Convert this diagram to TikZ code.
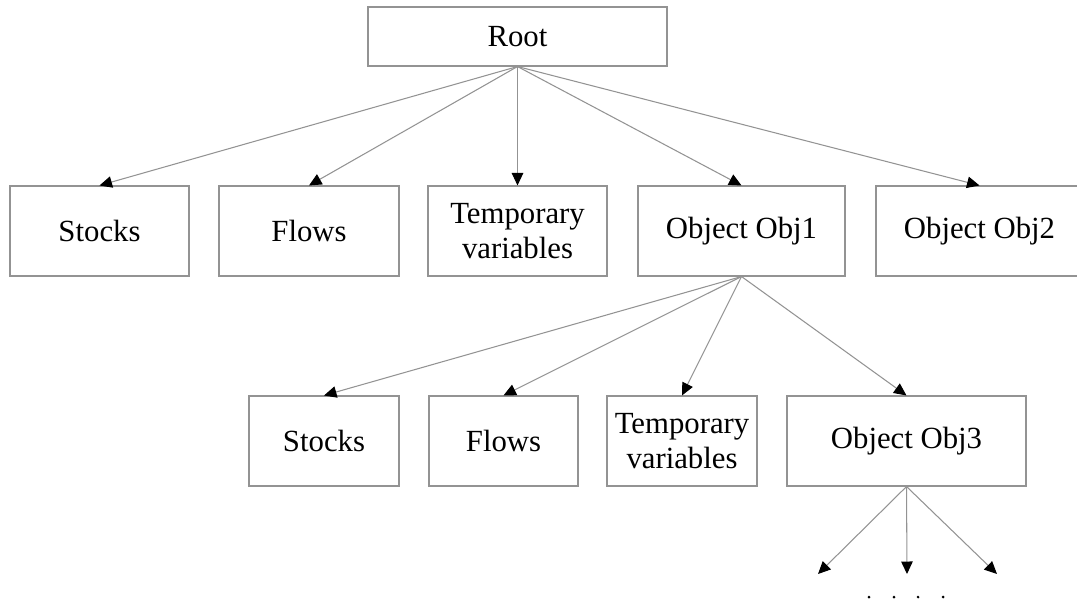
\documentclass[tikz,border=0pt]{standalone}
\usepackage{fontspec}
\setmainfont{Liberation Serif}
\usetikzlibrary{arrows.meta, positioning}

\begin{document}
\begin{tikzpicture}[
  box/.style={draw=gray!85, line width=0.6pt, minimum height=1.8cm, align=center,
    font=\fontsize{17.5}{19.5}\selectfont, inner sep=0pt},
  link/.style={draw=gray!85, line width=0.6pt,
    -{Triangle[length=0.25cm,width=0.23cm,black]}}
]
\useasboundingbox (0,0) rectangle (21.54,-12);

% Wurzel
\node[box, minimum width=5.98cm, minimum height=1.18cm] (root) at (10.35,-0.73) {Root};

% erste Ebene
\node[box, minimum width=3.58cm] (stocks) at (1.99,-4.62) {Stocks};
\node[box, minimum width=3.6cm] (flows) at (6.18,-4.62) {Flows};
\node[box, minimum width=3.58cm] (temp) at (10.35,-4.62) {Temporary\\variables};
\node[box, minimum width=4.14cm] (obja) at (14.83,-4.62) {Object Obj1};
\node[box, minimum width=4.14cm] (objb) at (19.59,-4.62) {Object Obj2};

% zweite Ebene
\node[box, minimum width=3.0cm] (stocksa) at (6.48,-8.82) {Stocks};
\node[box, minimum width=2.98cm] (flowsa) at (10.07,-8.82) {Flows};
\node[box, minimum width=3.0cm] (tempa) at (13.64,-8.82) {Temporary\\variables};
\node[box, minimum width=4.78cm] (objc) at (18.13,-8.82) {Object Obj3};

\coordinate (ea) at (16.36,-11.48);
\coordinate (eb) at (18.14,-11.48);
\coordinate (ec) at (19.94,-11.48);

\foreach \n in {stocks, flows, temp, obja, objb}
  \draw[link] (root.south) -- (\n.north);
\foreach \n in {stocksa, flowsa, tempa, objc}
  \draw[link] (obja.south) -- (\n.north);
\foreach \n in {ea, eb, ec}
  \draw[link] (objc.south) -- (\n);

% Punkte
\foreach \x in {17.38, 17.88, 18.36, 18.86}
  \fill (\x,-11.94) circle (0.03);
\end{tikzpicture}
\end{document}
